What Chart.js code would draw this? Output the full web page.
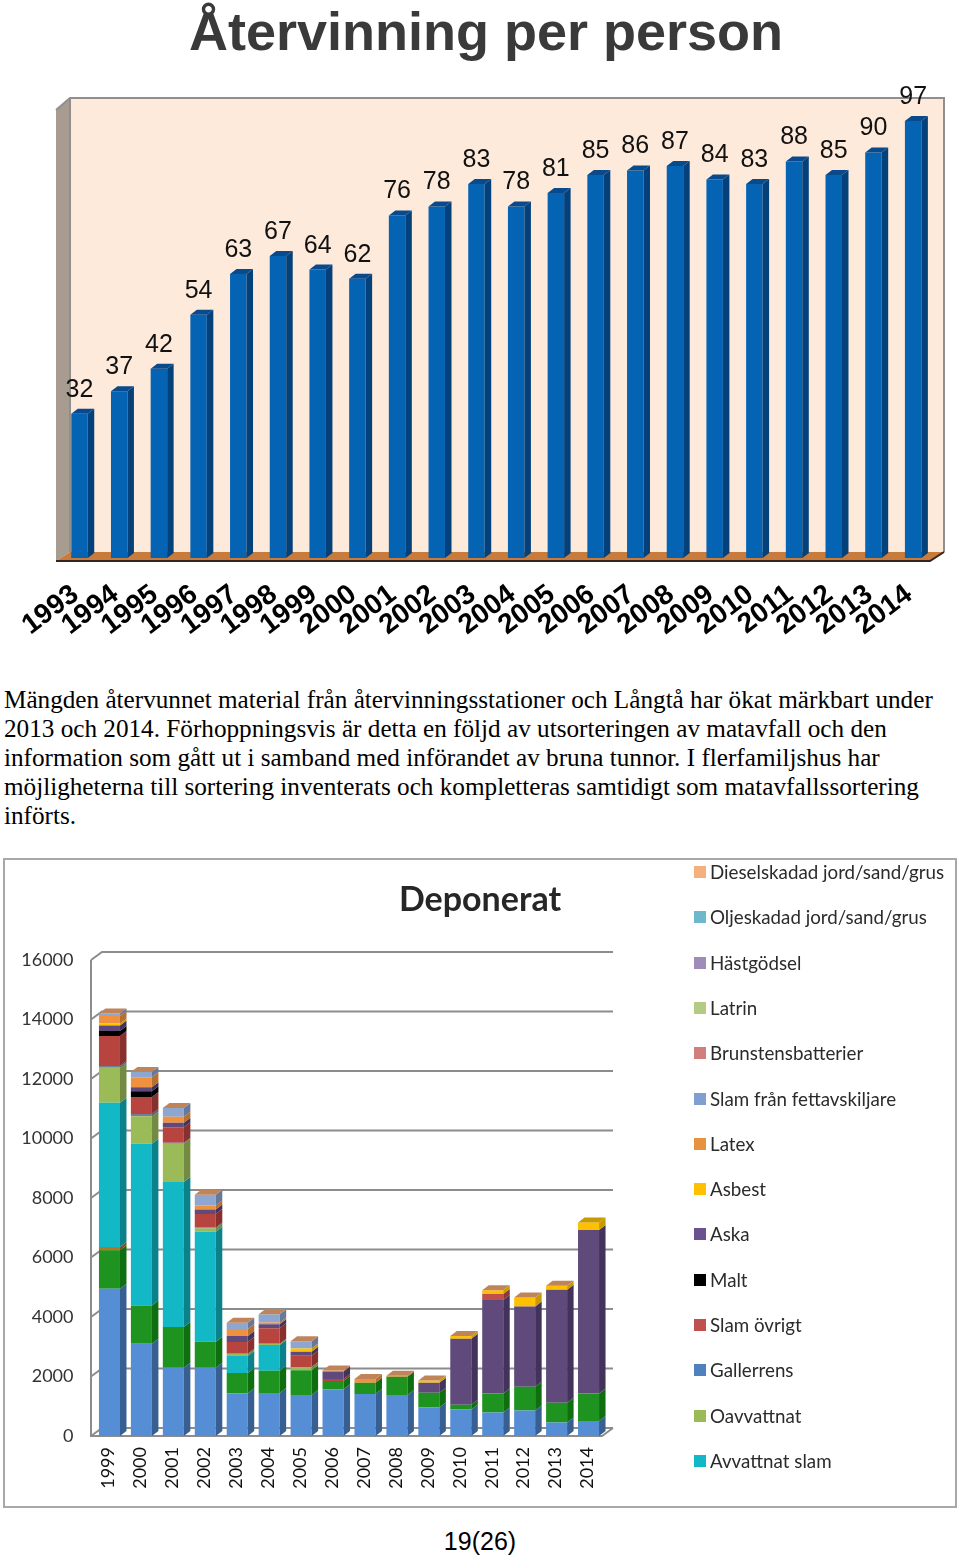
<!DOCTYPE html>
<html lang="sv">
<head>
<meta charset="utf-8">
<title>Återvinning per person</title>
<script src="https://cdn.jsdelivr.net/npm/chart.js@4"></script>
<style>
  html, body { margin: 0; padding: 0; background: #fff; overflow: hidden; }
  body { position: relative; width: 960px; height: 1557px; }
  canvas { position: absolute; display: block; }
  #chart-one { left: 0; top: 0; }
  #chart-two { left: 4px; top: 859px; }
  #frame { position: absolute; left: 3px; top: 858px; width: 950px; height: 646px; border: 2px solid #a8a8a8; }
  #text {
    position: absolute; left: 4px; top: 685px; margin: 0; white-space: nowrap;
    font: 25.2px/29px "Liberation Serif", serif; color: #000;
  }
  #legend { position: absolute; left: 694px; top: 860px; margin: 0; padding: 0; list-style: none; }
  #legend li {
    position: absolute; left: 0; white-space: nowrap; display: flex; align-items: center;
    font: 18.75px/24px Lato, sans-serif; color: #2b2b2b;
  }
  #legend span { display: inline-block; width: 12px; height: 12px; margin-right: 4px; }
  #page { position: absolute; left: 0; width: 960px; top: 1526px; text-align: center; font: 25px/30px "Liberation Sans", sans-serif; color: #000; }
</style>
</head>
<body>
<canvas id="chart-one" width="960" height="660"></canvas>
<p id="text">Mängden återvunnet material från återvinningsstationer och Långtå har ökat märkbart under<br>2013 och 2014. Förhoppningsvis är detta en följd av utsorteringen av matavfall och den<br>information som gått ut i samband med införandet av bruna tunnor. I flerfamiljshus har<br>möjligheterna till sortering inventerats och kompletteras samtidigt som matavfallssortering<br>införts.</p>
<div id="frame"></div>
<canvas id="chart-two" width="952" height="648"></canvas>
<ul id="legend"></ul>
<div id="page">19(26)</div>

<script>
'use strict';

// ********* DATA: recycling per person *******************
const personYears = ['1993', '1994', '1995', '1996', '1997', '1998', '1999', '2000', '2001', '2002', '2003', '2004', '2005', '2006', '2007', '2008', '2009', '2010', '2011', '2012', '2013', '2014'];
const personValues = [32, 37, 42, 54, 63, 67, 64, 62, 76, 78, 83, 78, 81, 85, 86, 87, 84, 83, 88, 85, 90, 97];

// ********* DATA: landfill, tonnes per year *******************
const depositYears = ['1999', '2000', '2001', '2002', '2003', '2004', '2005', '2006', '2007', '2008', '2009', '2010', '2011', '2012', '2013', '2014'];
const depositTicks = [0, 2000, 4000, 6000, 8000, 10000, 12000, 14000, 16000];

// the two bottom series and the thin ones are cut off from the legend in the picture
const bottomBlue = [4950, 3100, 2295, 2295, 1435, 1445, 1378, 1570, 1411, 1378, 961, 894, 793, 860, 457, 504];
const bottomGreen = [1290, 1290, 1367, 873, 683, 750, 830, 280, 380, 616, 494, 158, 638, 796, 662, 927];
const bottomOrange = [110, 0, 0, 0, 0, 0, 0, 0, 0, 0, 0, 0, 0, 0, 0, 0];
const avvattnatSlam = [4850, 5430, 4872, 3696, 571, 863, 0, 0, 0, 0, 0, 0, 0, 0, 0, 0];
const oavvattnat = [1176, 930, 1287, 114, 77, 44, 110, 0, 0, 0, 0, 0, 0, 0, 0, 0];
const gallerrens = [60, 77, 34, 34, 0, 0, 0, 0, 0, 0, 0, 0, 0, 0, 0, 0];
const slamOvrigt = [1008, 570, 527, 447, 393, 517, 380, 70, 0, 0, 0, 0, 0, 0, 0, 0];
const malt = [168, 190, 0, 0, 0, 0, 0, 0, 0, 0, 0, 0, 0, 0, 0, 0];
const aska = [190, 134, 145, 158, 200, 134, 134, 250, 0, 0, 336, 2218, 3138, 2698, 3797, 5490];
const extraRed = [0, 0, 0, 0, 0, 0, 0, 0, 0, 0, 0, 0, 200, 0, 0, 0];
const asbest = [67, 0, 0, 0, 0, 0, 112, 0, 0, 0, 77, 90, 134, 302, 134, 255];
const latex = [245, 336, 200, 134, 235, 60, 0, 30, 124, 34, 0, 0, 0, 0, 0, 0];
const slamFett = [90, 180, 302, 360, 212, 280, 245, 0, 0, 0, 0, 0, 0, 0, 0, 0];
const brunsten = [0, 0, 0, 0, 0, 0, 0, 0, 0, 0, 0, 0, 0, 0, 0, 0];
const latrin = [0, 0, 0, 0, 0, 0, 0, 0, 0, 0, 0, 0, 0, 0, 0, 0];
const hastgodsel = [0, 0, 0, 0, 0, 0, 0, 0, 0, 0, 0, 0, 0, 0, 0, 0];
const oljeskadad = [0, 0, 0, 0, 0, 0, 0, 0, 0, 0, 0, 0, 0, 0, 0, 0];
const dieselskadad = [0, 0, 0, 0, 0, 0, 0, 0, 0, 0, 0, 0, 0, 0, 0, 0];

// label, values, front colour, side colour, legend colour (null = not in legend)
const depositSeries = [
  ['Blå', bottomBlue, '#558ed5', '#375f91', null],
  ['Grön', bottomGreen, '#1e9320', '#0f6f10', null],
  ['Orange', bottomOrange, '#b5761e', '#7d5212', null],
  ['Avvattnat slam', avvattnatSlam, '#12b8c6', '#0b818c', '#12b8c6'],
  ['Oavvattnat', oavvattnat, '#9bbb59', '#728a41', '#9bbb59'],
  ['Gallerrens', gallerrens, '#6f7f9c', '#4f5b70', '#4f81bd'],
  ['Slam övrigt', slamOvrigt, '#b8443f', '#87302d', '#c0504d'],
  ['Malt', malt, '#000000', '#000000', '#000000'],
  ['Aska', aska, '#604a7b', '#43335a', '#6a5190'],
  ['Röd', extraRed, '#c0504d', '#8a3937', null],
  ['Asbest', asbest, '#ffc000', '#c99a00', '#ffc000'],
  ['Latex', latex, '#f0913f', '#b86f30', '#e8923f'],
  ['Slam från fettavskiljare', slamFett, '#8ea7d0', '#66799a', '#7f9fd0'],
  ['Brunstensbatterier', brunsten, '#d99694', '#a06e6d', '#d07f7d'],
  ['Latrin', latrin, '#c3d69b', '#8f9f72', '#b3cb85'],
  ['Hästgödsel', hastgodsel, '#b3a2c7', '#847792', '#a08cba'],
  ['Oljeskadad jord/sand/grus', oljeskadad, '#92cddc', '#6c98a3', '#6fb7cc'],
  ['Dieselskadad jord/sand/grus', dieselskadad, '#fac090', '#b98e6a', '#f5b07f']
];


// ********* CHART ONE *******************
const wallPlugin = {
  id: 'wall',
  afterLayout(chart) {
    // the heading sits left of the middle of the plot
    chart.titleBlock.left = 12;
    chart.titleBlock.right = chart.width;
  },
  beforeDatasetsDraw(chart) {
    const c = chart.ctx;
    const fill = (color, pts) => {
      c.fillStyle = color;
      c.beginPath();
      pts.forEach((p, i) => (i ? c.lineTo(p[0], p[1]) : c.moveTo(p[0], p[1])));
      c.closePath();
      c.fill();
    };
    fill('#fdeadb', [[70, 98], [944, 98], [944, 552], [70, 552]]);
    fill('#a89c90', [[56, 110], [70, 98], [70, 552], [56, 561]]);
    fill('#c97b3c', [[56, 561], [70, 552], [944, 552], [930, 561]]);
    c.strokeStyle = '#8f8f8f';
    c.lineWidth = 2;
    c.beginPath();
    c.moveTo(56, 110); c.lineTo(70, 98); c.lineTo(944, 98); c.lineTo(944, 552);
    c.moveTo(70, 98); c.lineTo(70, 552);
    c.stroke();
    c.strokeStyle = '#33241c';
    c.beginPath();
    c.moveTo(56, 561); c.lineTo(930, 561); c.lineTo(944, 552);
    c.stroke();
  }
};

// right side and top of each bar, and the number over it
const personBarPlugin = {
  id: 'personBars',
  afterDatasetsDraw(chart) {
    const c = chart.ctx;
    const dx = 6.5;
    const dy = 5;
    chart.getDatasetMeta(0).data.forEach((bar, i) => {
      const right = bar.x + bar.width / 2;
      const left = bar.x - bar.width / 2;
      c.fillStyle = '#04407a';
      c.beginPath();
      c.moveTo(right, bar.y); c.lineTo(right + dx, bar.y - dy); c.lineTo(right + dx, bar.base - dy); c.lineTo(right, bar.base);
      c.closePath();
      c.fill();
      c.fillStyle = '#084a8c';
      c.beginPath();
      c.moveTo(left, bar.y); c.lineTo(left + dx, bar.y - dy); c.lineTo(right + dx, bar.y - dy); c.lineTo(right, bar.y);
      c.closePath();
      c.fill();
      c.fillStyle = '#111';
      c.font = '25px "Liberation Sans", sans-serif';
      c.textAlign = 'center';
      c.textBaseline = 'middle';
      c.fillText(String(personValues[i]), bar.x, bar.y - 24);
    });
  }
};

new Chart(document.getElementById('chart-one'), {
  type: 'bar',
  data: {
    labels: personYears,
    datasets: [{
      label: 'Återvinning per person',
      data: personValues,
      backgroundColor: '#0563b4',
      barPercentage: 0.415,
      categoryPercentage: 1
    }]
  },
  options: {
    responsive: false,
    animation: false,
    layout: { padding: { left: 59.65, right: 27 } },
    plugins: {
      legend: { display: false },
      tooltip: { enabled: false },
      title: {
        display: true,
        text: 'Återvinning per person',
        color: '#3a3a3a',
        font: { family: '"Liberation Sans", sans-serif', size: 54, weight: 'bold' },
        padding: { top: 3, bottom: 43.2 }
      }
    },
    scales: {
      y: { display: false, min: 0, max: 99.2 },
      x: {
        grid: { display: false, drawTicks: false },
        border: { display: false },
        afterFit(scale) { scale.height = 102; },
        ticks: {
          autoSkip: false,
          minRotation: 37,
          maxRotation: 37,
          padding: 20,
          labelOffset: -4,
          color: '#000',
          font: { family: '"Liberation Sans", sans-serif', size: 28, weight: 'bold' }
        }
      }
    }
  },
  plugins: [wallPlugin, personBarPlugin]
});


// ********* CHART TWO *******************
// gridlines go up and back from the axis, the way the 3d chart shows them
const gridPlugin = {
  id: 'grid3d',
  beforeDatasetsDraw(chart) {
    const c = chart.ctx;
    const y = chart.scales.y;
    const left = chart.chartArea.left - 2.5;
    const right = chart.chartArea.right - 2.5;
    c.strokeStyle = '#8c8c8c';
    c.lineWidth = 2;
    c.beginPath();
    y.ticks.forEach((tick, i) => {
      const py = y.getPixelForTick(i);
      c.moveTo(left, py);
      c.lineTo(left + 11, py - 8);
      c.lineTo(right + 11, py - 8);
    });
    c.moveTo(left, y.getPixelForValue(16000));
    c.lineTo(left, y.getPixelForValue(0));
    c.lineTo(right, y.getPixelForValue(0));
    c.lineTo(right + 11, y.getPixelForValue(0) - 8);
    c.stroke();
  }
};

const depositBarPlugin = {
  id: 'depositBars',
  afterLayout(chart) {
    // title is centred over the whole frame, not only the plot
    chart.titleBlock.left = 0;
    chart.titleBlock.right = chart.width;
  },
  afterDatasetsDraw(chart) {
    const c = chart.ctx;
    const dx = 6.5;
    const dy = 5;
    depositYears.forEach((year, i) => {
      let topBar = null;
      depositSeries.forEach((series, s) => {
        const bar = chart.getDatasetMeta(s).data[i];
        if (series[1][i] <= 0) {
          return;
        }
        const right = bar.x + bar.width / 2;
        c.fillStyle = series[3];
        c.beginPath();
        c.moveTo(right, bar.y); c.lineTo(right + dx, bar.y - dy); c.lineTo(right + dx, bar.base - dy); c.lineTo(right, bar.base);
        c.closePath();
        c.fill();
        topBar = bar;
      });
      const left = topBar.x - topBar.width / 2;
      const right = topBar.x + topBar.width / 2;
      c.fillStyle = year === '2014' ? '#c99a00' : '#bf845a';
      c.beginPath();
      c.moveTo(left, topBar.y); c.lineTo(left + dx, topBar.y - dy); c.lineTo(right + dx, topBar.y - dy); c.lineTo(right, topBar.y);
      c.closePath();
      c.fill();
    });
  }
};

new Chart(document.getElementById('chart-two'), {
  type: 'bar',
  data: {
    labels: depositYears,
    datasets: depositSeries.map((series) => ({
      label: series[0],
      data: series[1],
      backgroundColor: series[2],
      barPercentage: 0.658,
      categoryPercentage: 1
    }))
  },
  options: {
    responsive: false,
    animation: false,
    layout: { padding: { right: 351.5 } },
    plugins: {
      legend: { display: false },
      tooltip: { enabled: false },
      title: {
        display: true,
        text: 'Deponerat',
        color: '#262626',
        font: { family: 'Lato, sans-serif', size: 34, weight: 'bold' },
        padding: { top: 21, bottom: 39.2 }
      }
    },
    scales: {
      x: {
        stacked: true,
        grid: { display: false, drawTicks: false },
        border: { display: false },
        afterFit(scale) { scale.height = 71; },
        ticks: {
          autoSkip: false,
          minRotation: 90,
          maxRotation: 90,
          padding: 11,
          labelOffset: -1,
          color: '#111',
          font: { family: 'Lato, sans-serif', size: 18 }
        }
      },
      y: {
        stacked: true,
        min: 0,
        max: 16000,
        grid: { display: false, drawTicks: false },
        border: { display: false },
        afterFit(scale) { scale.width = 89.5; },
        afterBuildTicks(scale) { scale.ticks = depositTicks.map((value) => ({ value })); },
        ticks: {
          padding: 20,
          color: '#333',
          font: { family: 'Lato, sans-serif', size: 18 },
          callback(value) { return String(value); }
        }
      }
    }
  },
  plugins: [gridPlugin, depositBarPlugin]
});

// legend list, top to bottom, reverse of the stacking order
const legendList = document.getElementById('legend');
let legendRow = 0;
depositSeries.slice().reverse().forEach((series) => {
  if (series[4] === null) {
    return;
  }
  const li = document.createElement('li');
  li.style.top = `${legendRow * 45.3}px`;
  const box = document.createElement('span');
  box.style.background = series[4];
  li.appendChild(box);
  li.appendChild(document.createTextNode(series[0]));
  legendList.appendChild(li);
  legendRow++;
});
</script>
</body>
</html>
